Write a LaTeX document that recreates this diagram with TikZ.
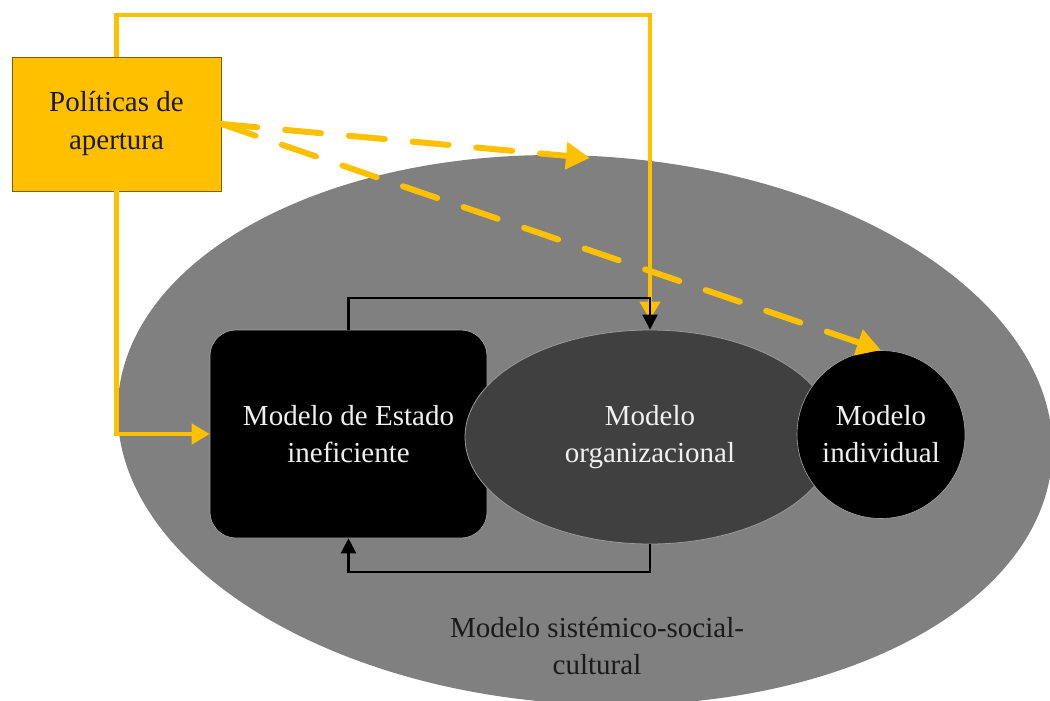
\documentclass[tikz,border=0pt]{standalone}
\usepackage{fontspec}
\setmainfont{Liberation Serif}
\usetikzlibrary{arrows.meta,shapes.geometric}
\definecolor{gold}{HTML}{FFC000}
\definecolor{outergray}{HTML}{808080}
\definecolor{midgray}{HTML}{404040}
\definecolor{txtdark}{HTML}{1A1A1A}
\begin{document}
\begin{tikzpicture}[x=1pt,y=-1pt,
  txt/.style={font=\fontsize{29}{37}\selectfont, align=center},
  goldline/.style={draw=gold, line width=4.5pt},
  goldarrow/.style={goldline, -{Triangle[length=18pt,width=20pt]}},
  blackarrow/.style={draw=black, line width=2.2pt, -{Triangle[length=15pt,width=15pt]}},
  dasharrow/.style={draw=gold, line width=6pt, dash pattern=on 36pt off 28pt, line cap=round, -{Triangle[length=24pt,width=26pt]}},
  ]
\clip (0,0) rectangle (1050,701);
% outer ellipse
\node[ellipse, fill=outergray, minimum width=936pt, minimum height=548pt, inner sep=0pt, rotate=-3.5] (sys) at (585,430) {};
\node[txt, text=txtdark] (lbl) at (597,646) {Modelo sistémico-social-\\cultural};
% policies box
\node[draw=black!50!gold, line width=0.8pt, fill=gold, minimum width=209pt, minimum height=134pt, inner sep=0pt,
      txt, font=\fontsize{29}{38}\selectfont, text=txtdark] (pol) at (116.5,124) {Políticas de\\apertura};
% state box
\node[rounded corners=26pt, fill=black, draw=gray!70, line width=0.6pt, minimum width=277pt, minimum height=208pt, inner sep=0pt,
      txt, text=white!94!black] (blk) at (348.5,434) {Modelo de Estado\\ineficiente};
% organizational ellipse
\node[ellipse, fill=midgray, draw=gray!80, line width=0.8pt, minimum width=370pt, minimum height=214pt, inner sep=0pt,
      txt, text=white!94!black] (org) at (650,437) {Modelo\\organizacional};
% individual circle
\node[circle, fill=black, draw=gray!70, line width=0.6pt, minimum size=168pt, inner sep=0pt,
      txt, text=white!94!black] (ind) at (881,434.5) {Modelo\\individual};
% coordinates
\coordinate (tr) at (650,15);
\coordinate (d1) at (590,158);
\coordinate (c1) at (650,298);
\coordinate (c2) at (650,572);
% gold solid connectors
\draw[goldarrow, shorten >=10pt] (pol.north) |- (tr) -- (org.north);
\draw[goldarrow] (pol.south) |- (blk.west);
% dashed
\draw[dasharrow] (pol.east) -- (d1);
\draw[dasharrow] (pol.east) -- (ind.north);
% black feedback
\draw[blackarrow] (blk.north) |- (c1) -- (org.north);
\draw[blackarrow] (org.south) -- (c2) -| (blk.south);
\end{tikzpicture}
\end{document}
